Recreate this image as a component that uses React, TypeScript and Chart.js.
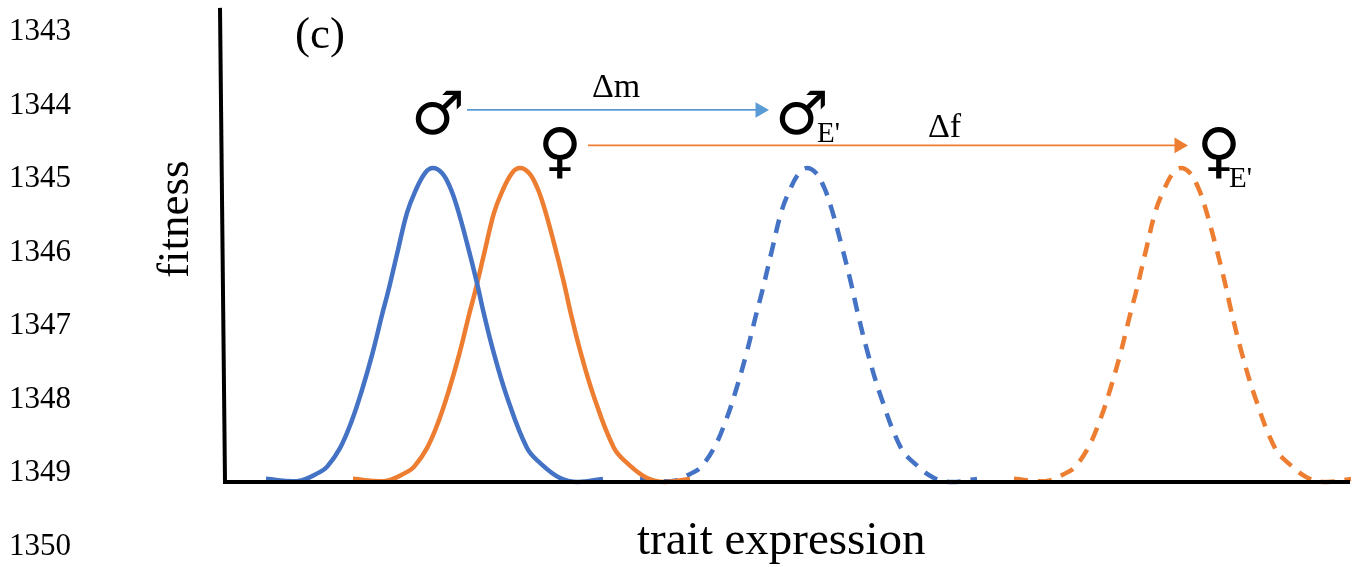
import React, { useEffect, useRef } from "react";
import { Chart, registerables } from "chart.js";

Chart.register(...registerables);

const blueTrait = [41, 73, 95, 102, 115, 127, 137, 147, 157, 163, 173, 182, 190, 200, 208, 217, 225, 232, 242, 252, 258, 268, 282, 302, 315, 335, 353, 378];
const orangeTrait = [128, 160, 182, 189, 202, 214, 224, 234, 244, 250, 260, 269, 277, 287, 295, 304, 312, 319, 329, 339, 345, 355, 369, 389, 402, 422, 440, 465];
const blueShiftTrait = [415, 447, 469, 476, 489, 501, 511, 521, 531, 537, 547, 556, 564, 574, 582, 591, 599, 606, 616, 626, 632, 642, 656, 676, 689, 709, 727, 752];
const orangeShiftTrait = [789, 821, 843, 850, 863, 875, 885, 895, 905, 911, 921, 930, 938, 948, 956, 965, 973, 980, 990, 1000, 1006, 1016, 1030, 1050, 1063, 1083, 1101, 1126];
const fitnessValues = [0.01, 0.003, 0.032, 0.048, 0.108, 0.197, 0.293, 0.404, 0.532, 0.605, 0.739, 0.857, 0.924, 0.984, 1, 0.984, 0.939, 0.876, 0.761, 0.634, 0.548, 0.42, 0.271, 0.108, 0.061, 0.013, 0, 0.01];
const deltaMTrait = [242, 535];
const deltaMFitness = [1.185, 1.185];
const deltaFTrait = [363, 954];
const deltaFFitness = [1.072, 1.072];
const lineNumbers = ["1343", "1344", "1345", "1346", "1347", "1348", "1349", "1350"];

const zip = (xs: number[], ys: number[]) => xs.map((x, i) => ({ x, y: ys[i] }));

const textPlugin = {
  id: "figureText",
  afterDatasetsDraw(chart: any) {
    const c = chart.ctx;
    const put = (s: string, x: number, y: number, font: string, rot = 0) => {
      c.save();
      c.translate(x, y);
      c.rotate(rot);
      c.font = font;
      c.fillStyle = "#000";
      c.textAlign = "left";
      c.textBaseline = "alphabetic";
      c.fillText(s, 0, 0);
      c.restore();
    };
    const serif = "'Liberation Serif'";
    const sym = "'DejaVu Sans'";
    lineNumbers.forEach((n, i) => put(n, 9, 40 + i * 73.5, `31px ${serif}`));
    put("fitness", 188, 278, `45px ${serif}`, -Math.PI / 2);
    put("trait expression", 637, 554, `47px ${serif}`);
    put("(c)", 295, 48, `45px ${serif}`);
    put("Δm", 592, 97, `34px ${serif}`);
    put("Δf", 928, 137, `34px ${serif}`);
    put("♂", 411, 134, `60px ${sym}`);
    put("♀", 538, 171, `60px ${sym}`);
    put("♂", 775, 134, `60px ${sym}`);
    put("♀", 1197, 171, `60px ${sym}`);
    put("E'", 817, 142, `29px ${serif}`);
    put("E'", 1229, 187, `29px ${serif}`);
  },
};

export default function App() {
  const ref = useRef<HTMLCanvasElement>(null);
  useEffect(() => {
    const curve = (label: string, xs: number[], color: string, dash: number[]) => ({
      label,
      data: zip(xs, fitnessValues),
      borderColor: color,
      borderWidth: 4.5,
      borderDash: dash,
      tension: 0.4,
      pointRadius: 0,
      clip: false as any,
    });
    const arrow = (label: string, xs: number[], ys: number[], color: string) => ({
      label,
      data: zip(xs, ys),
      borderColor: color,
      backgroundColor: color,
      borderWidth: 1.6,
      pointRadius: [0, 9],
      pointStyle: "triangle" as const,
      pointRotation: 90,
      pointBorderWidth: 0,
      clip: false as any,
    });
    const axis = (label: string, xs: number[], ys: number[]) => ({
      label,
      data: zip(xs, ys),
      borderColor: "#000",
      borderWidth: 4,
      pointRadius: 0,
      clip: false as any,
    });
    const chart = new Chart(ref.current!, {
      type: "line",
      data: {
        datasets: [
          axis("trait axis", [-2, 1125], [0, 0]),
          axis("fitness axis", [-5, 0], [1.51, 0]),
          arrow("Δm", deltaMTrait, deltaMFitness, "#5B9BD5"),
          arrow("Δf", deltaFTrait, deltaFFitness, "#ED7D31"),
          curve("male", blueTrait, "#4472C4", []),
          curve("female", orangeTrait, "#ED7D31", []),
          curve("male E'", blueShiftTrait, "#4472C4", [14, 10]),
          curve("female E'", orangeShiftTrait, "#ED7D31", [14, 10]),
        ],
      },
      options: {
        responsive: false,
        animation: false,
        layout: { autoPadding: false, padding: { left: 225, right: 5, top: 8, bottom: 85 } },
        plugins: { legend: { display: false }, tooltip: { enabled: false }, title: { display: false } },
        scales: {
          x: { type: "linear", display: false, min: 0, max: 1125 },
          y: { type: "linear", display: false, min: 0, max: 1.5096 },
        },
      },
      plugins: [textPlugin],
    });
    return () => chart.destroy();
  }, []);
  return (
    <canvas
      ref={ref}
      width={1355}
      height={567}
      style={{ position: "fixed", left: 0, top: 0, width: 1355, height: 567, background: "#fff" }}
    />
  );
}
